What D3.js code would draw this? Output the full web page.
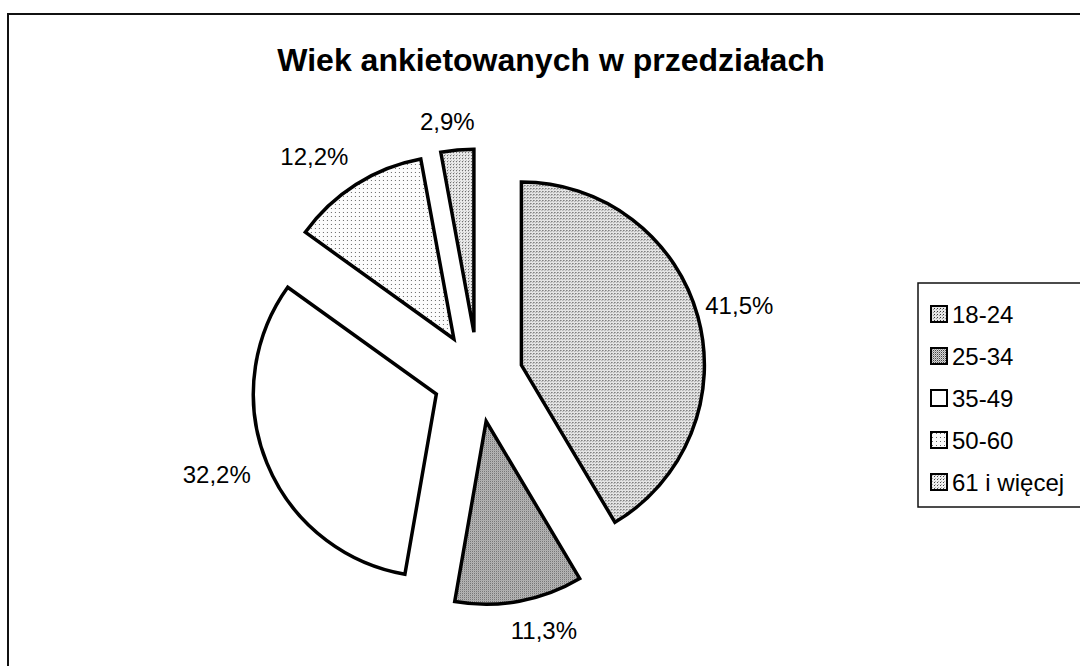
<!DOCTYPE html>
<html><head>
<meta charset="utf-8">
<title>Wiek ankietowanych</title>
<script src="https://d3js.org/d3.v7.min.js"></script>
<style>
  body { margin: 0; background: white; }
  svg { display: block; font-family: "Liberation Sans", Arial, sans-serif; }
</style>
</head>
<body>
<div id="chart"></div>
<script>
// data
var title = "Wiek ankietowanych w przedziałach";
var categories = ["18-24", "25-34", "35-49", "50-60", "61 i więcej"];
var values = [41.5, 11.3, 32.2, 12.2, 2.9];
var valueLabels = ["41,5%", "11,3%", "32,2%", "12,2%", "2,9%"];

var W = 1080, H = 666;
var cx = 478, cy = 377, radius = 183, explode = 45;

var svg = d3.select("#chart").append("svg")
  .attr("width", W).attr("height", H);

// dotted fills, like the scanned print
var defs = svg.append("defs");
function dotPattern(id, size, bg, dots) {
  var p = defs.append("pattern")
    .attr("id", id).attr("patternUnits", "userSpaceOnUse")
    .attr("width", size).attr("height", size);
  p.append("rect").attr("width", size).attr("height", size).attr("fill", bg);
  dots.forEach(function(d) {
    p.append("rect").attr("x", d[0]).attr("y", d[1]).attr("width", 1).attr("height", 1).attr("fill", d[2]);
  });
}
dotPattern("p0", 3, "#e6e6e6", [[0, 0, "#333"], [2, 1, "#999"]]);
dotPattern("p1", 2, "#d6d6d6", [[0, 0, "#444"], [1, 1, "#999"]]);
dotPattern("p2", 4, "#ffffff", []);
dotPattern("p3", 4, "#fcfcfc", [[1, 1, "#666"]]);
dotPattern("p4", 3, "#eeeeee", [[0, 0, "#444"], [1, 2, "#aaa"]]);
var fills = categories.map(function(d, i) { return "url(#p" + i + ")"; });

// frame of the chart area (runs off the right and bottom of the page)
svg.append("path")
  .attr("d", "M8," + H + "V14H" + W)
  .attr("fill", "none").attr("stroke", "#111").attr("stroke-width", 2);

svg.append("text")
  .attr("x", 551).attr("y", 71)
  .attr("text-anchor", "middle")
  .attr("font-weight", "bold").attr("font-size", 32)
  .text(title);

var pie = d3.pie().sort(null).startAngle(0).endAngle(2 * Math.PI);
var arcs = pie(values);
var arc = d3.arc().innerRadius(0).outerRadius(radius);

function mid(a) { return (a.startAngle + a.endAngle) / 2; }

var slices = svg.append("g").attr("transform", "translate(" + cx + "," + cy + ")");
slices.selectAll("path").data(arcs).enter().append("path")
  .attr("transform", function(d) {
    var m = mid(d);
    return "translate(" + (explode * Math.sin(m)) + "," + (-explode * Math.cos(m)) + ")";
  })
  .attr("d", arc)
  .attr("fill", function(d, i) { return fills[i]; })
  .attr("stroke", "#000").attr("stroke-width", 3.5)
  .attr("stroke-linejoin", "miter");

// label placement: along the slice's mid angle, from its exploded apex
var labelTurn = [0, -5, 2, -5, -2];
var labelDist = [226, 217, 234, 230, 212];
slices.selectAll("text.val").data(arcs).enter().append("text")
  .attr("class", "val")
  .attr("x", function(d, i) {
    var m = mid(d), a = m + labelTurn[i] * Math.PI / 180;
    return explode * Math.sin(m) + labelDist[i] * Math.sin(a);
  })
  .attr("y", function(d, i) {
    var m = mid(d), a = m + labelTurn[i] * Math.PI / 180;
    return -explode * Math.cos(m) - labelDist[i] * Math.cos(a);
  })
  .attr("text-anchor", "middle")
  .attr("dominant-baseline", "central")
  .attr("font-size", 24)
  .text(function(d, i) { return valueLabels[i]; });

// legend
var legend = svg.append("g");
legend.append("rect")
  .attr("x", 918).attr("y", 283).attr("width", 200).attr("height", 224)
  .attr("fill", "white").attr("stroke", "#111").attr("stroke-width", 1.5);

var ly = d3.scalePoint().domain(categories).range([314, 482]);
var items = legend.selectAll("g.item").data(categories).enter().append("g")
  .attr("class", "item")
  .attr("transform", function(d) { return "translate(931," + ly(d) + ")"; });
items.append("rect")
  .attr("x", 0).attr("y", -8).attr("width", 16).attr("height", 16)
  .attr("fill", function(d, i) { return fills[i]; })
  .attr("stroke", "#000").attr("stroke-width", 2);
items.append("text")
  .attr("x", 21).attr("y", 0)
  .attr("dominant-baseline", "central")
  .attr("font-size", 24)
  .text(function(d) { return d; });
</script>
</body></html>
